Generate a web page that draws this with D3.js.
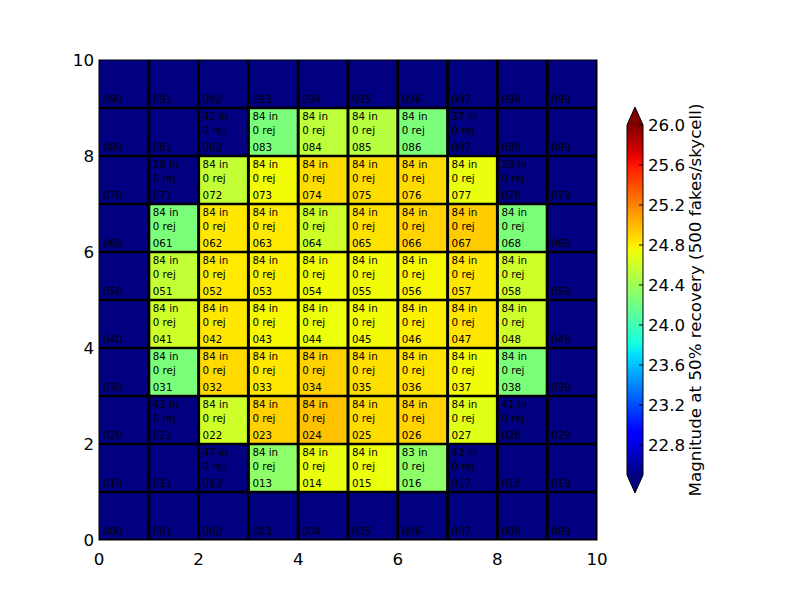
<!DOCTYPE html>
<html>
<head>
<meta charset="utf-8">
<script src="https://cdn.jsdelivr.net/npm/d3@7"></script>
<style>
  body { margin: 0; background: #fff; }
  text { font-family: "DejaVu Sans", sans-serif; }
</style>
</head>
<body>
<div id="chart"></div>
<script>
// grid cells, row 0 = bottom. null magnitude = below the colour scale (drawn with the lowest colour)
const cols = [0, 1, 2, 3, 4, 5, 6, 7, 8, 9]
const rows = [0, 1, 2, 3, 4, 5, 6, 7, 8, 9]

const mag0 = [null, null, null, null, null, null, null, null, null, null]
const mag1 = [null, null, null, 24.33, 24.72, 24.73, 24.33, null, null, null]
const mag2 = [null, null, 24.6, 24.91, 24.97, 24.87, 24.9, 24.68, null, null]
const mag3 = [null, 24.25, 24.88, 24.83, 24.91, 24.86, 24.84, 24.75, 24.25, null]
const mag4 = [null, 24.6, 24.83, 24.77, 24.73, 24.75, 24.8, 24.84, 24.6, null]
const mag5 = [null, 24.55, 24.82, 24.8, 24.75, 24.75, 24.77, 24.83, 24.6, null]
const mag6 = [null, 24.25, 24.83, 24.82, 24.6, 24.85, 24.9, 24.93, 24.25, null]
const mag7 = [null, null, 24.55, 24.75, 24.87, 24.87, 24.87, 24.72, null, null]
const mag8 = [null, null, null, 24.25, 24.53, 24.5, 24.25, null, null, null]
const mag9 = [null, null, null, null, null, null, null, null, null, null]

// fakes recovered ("in") per cell, null = no label
const in0 = [null, null, null, null, null, null, null, null, null, null]
const in1 = [null, null, 47, 84, 84, 84, 83, 42, null, null]
const in2 = [null, 43, 84, 84, 84, 84, 84, 84, 41, null]
const in3 = [null, 84, 84, 84, 84, 84, 84, 84, 84, null]
const in4 = [null, 84, 84, 84, 84, 84, 84, 84, 84, null]
const in5 = [null, 84, 84, 84, 84, 84, 84, 84, 84, null]
const in6 = [null, 84, 84, 84, 84, 84, 84, 84, 84, null]
const in7 = [null, 38, 84, 84, 84, 84, 84, 84, 29, null]
const in8 = [null, null, 42, 84, 84, 84, 84, 37, null, null]
const in9 = [null, null, null, null, null, null, null, null, null, null]
const rejCount = 0

const axisTicks = [0, 2, 4, 6, 8, 10]
const cbarTicks = [22.8, 23.2, 23.6, 24.0, 24.4, 24.8, 25.2, 25.6, 26.0]
const cbarDomain = [22.5, 26.0]
const cbarLabel = 'Magnitude at 50% recovery (500 fakes/skycell)'

const magRows = [mag0, mag1, mag2, mag3, mag4, mag5, mag6, mag7, mag8, mag9]
const inRows = [in0, in1, in2, in3, in4, in5, in6, in7, in8, in9]

// matplotlib jet
const jetSeg = {
  r: [[0, 0], [0.35, 0], [0.66, 1], [0.89, 1], [1, 0.5]],
  g: [[0, 0], [0.125, 0], [0.375, 1], [0.64, 1], [0.91, 0], [1, 0]],
  b: [[0, 0.5], [0.11, 1], [0.34, 1], [0.65, 0], [1, 0]]
}
const seg = (pts, t) => {
  for (let i = 1; i < pts.length; i++) {
    if (t <= pts[i][0]) {
      const [x0, y0] = pts[i - 1], [x1, y1] = pts[i]
      return y0 + (y1 - y0) * (t - x0) / (x1 - x0)
    }
  }
  return pts[pts.length - 1][1]
}
const jet = t => {
  t = Math.max(0, Math.min(1, t))
  return d3.rgb(seg(jetSeg.r, t) * 255, seg(jetSeg.g, t) * 255, seg(jetSeg.b, t) * 255).toString()
}
const norm = d3.scaleLinear().domain(cbarDomain).range([0, 1]).clamp(true)
const colorOf = v => v == null ? jet(0) : jet(norm(v))

const cells = []
rows.forEach(r => cols.forEach(c => {
  cells.push({ r, c, mag: magRows[r][c], n: inRows[r][c], id: '0' + r + c })
}))

const W = 800, H = 600
const svg = d3.select('#chart').append('svg')
  .attr('width', W)
  .attr('height', H)

const x = d3.scaleLinear().domain([0, 10]).range([99, 597])
const y = d3.scaleLinear().domain([0, 10]).range([540, 60])

svg.append('clipPath').attr('id', 'plot')
  .append('rect')
  .attr('x', x(0)).attr('y', y(10))
  .attr('width', x(10) - x(0)).attr('height', y(0) - y(10))

const g = svg.append('g').attr('clip-path', 'url(#plot)')

g.selectAll('.cell')
  .data(cells)
  .enter().append('rect')
    .attr('class', 'cell')
    .attr('x', d => x(d.c))
    .attr('y', d => y(d.r + 1))
    .attr('width', x(1) - x(0))
    .attr('height', y(0) - y(1))
    .attr('fill', d => colorOf(d.mag))

// cell borders
g.selectAll('.vline')
  .data(d3.range(1, 11))
  .enter().append('line')
    .attr('x1', d => x(d)).attr('x2', d => x(d))
    .attr('y1', y(0)).attr('y2', y(10))
    .attr('stroke', '#000').attr('stroke-width', 3)

g.selectAll('.hline')
  .data(d3.range(0, 10))
  .enter().append('line')
    .attr('y1', d => y(d)).attr('y2', d => y(d))
    .attr('x1', x(0)).attr('x2', x(10))
    .attr('stroke', '#000').attr('stroke-width', 2.5)

const lbl = g.selectAll('.lbl')
  .data(cells)
  .enter().append('g')
    .attr('class', 'lbl')
    .attr('font-size', '10.3px')
    .attr('fill', '#000')

lbl.append('text')
  .attr('x', d => x(d.c + 0.08))
  .attr('y', d => y(d.r + 0.1))
  .text(d => d.id)

lbl.filter(d => d.n != null).append('text')
  .attr('x', d => x(d.c + 0.08))
  .attr('y', d => y(d.r + 0.45))
  .text(rejCount + ' rej')

lbl.filter(d => d.n != null).append('text')
  .attr('x', d => x(d.c + 0.08))
  .attr('y', d => y(d.r + 0.74))
  .text(d => d.n + ' in')

// frame
svg.append('rect')
  .attr('x', x(0)).attr('y', y(10))
  .attr('width', x(10) - x(0)).attr('height', y(0) - y(10))
  .attr('fill', 'none').attr('stroke', '#000').attr('stroke-width', 1)

svg.selectAll('.xt')
  .data(axisTicks)
  .enter().append('text')
    .attr('x', d => x(d))
    .attr('y', 565)
    .attr('text-anchor', 'middle')
    .attr('font-size', '16.7px')
    .text(d => d)

svg.selectAll('.yt')
  .data(axisTicks)
  .enter().append('text')
    .attr('x', 94)
    .attr('y', d => y(d) + 6)
    .attr('text-anchor', 'end')
    .attr('font-size', '16.7px')
    .text(d => d)

// colorbar
const cb = d3.scaleLinear().domain(cbarDomain).range([475, 125])
const cbx = 627, cbw = 16, ext = 18

const grad = svg.append('defs').append('linearGradient')
  .attr('id', 'jetgrad')
  .attr('x1', 0).attr('y1', 1).attr('x2', 0).attr('y2', 0)
grad.selectAll('stop')
  .data(d3.range(0, 1.0001, 0.02))
  .enter().append('stop')
    .attr('offset', d => d)
    .attr('stop-color', d => jet(d))

svg.append('rect')
  .attr('x', cbx).attr('y', cb(cbarDomain[1]))
  .attr('width', cbw).attr('height', cb(cbarDomain[0]) - cb(cbarDomain[1]))
  .attr('fill', 'url(#jetgrad)')

svg.append('path')
  .attr('d', `M${cbx},${cb(cbarDomain[1])} L${cbx + cbw / 2},${cb(cbarDomain[1]) - ext} L${cbx + cbw},${cb(cbarDomain[1])}Z`)
  .attr('fill', jet(1))
svg.append('path')
  .attr('d', `M${cbx},${cb(cbarDomain[0])} L${cbx + cbw / 2},${cb(cbarDomain[0]) + ext} L${cbx + cbw},${cb(cbarDomain[0])}Z`)
  .attr('fill', jet(0))

svg.append('path')
  .attr('d', `M${cbx},${cb(cbarDomain[1])} L${cbx + cbw / 2},${cb(cbarDomain[1]) - ext} L${cbx + cbw},${cb(cbarDomain[1])}` +
    ` L${cbx + cbw},${cb(cbarDomain[0])} L${cbx + cbw / 2},${cb(cbarDomain[0]) + ext} L${cbx},${cb(cbarDomain[0])}Z`)
  .attr('fill', 'none').attr('stroke', '#000').attr('stroke-width', 1)

svg.selectAll('.cbt')
  .data(cbarTicks)
  .enter().append('line')
    .attr('x1', cbx + cbw - 4).attr('x2', cbx + cbw)
    .attr('y1', d => cb(d)).attr('y2', d => cb(d))
    .attr('stroke', '#000').attr('stroke-width', 1)

svg.selectAll('.cbl')
  .data(cbarTicks)
  .enter().append('text')
    .attr('x', 648)
    .attr('y', d => cb(d) + 6)
    .attr('font-size', '16.7px')
    .text(d => d.toFixed(1))

svg.append('text')
  .attr('transform', 'translate(701,300) rotate(-90)')
  .attr('text-anchor', 'middle')
  .attr('font-size', '16.7px')
  .text(cbarLabel)
</script>
</body>
</html>
